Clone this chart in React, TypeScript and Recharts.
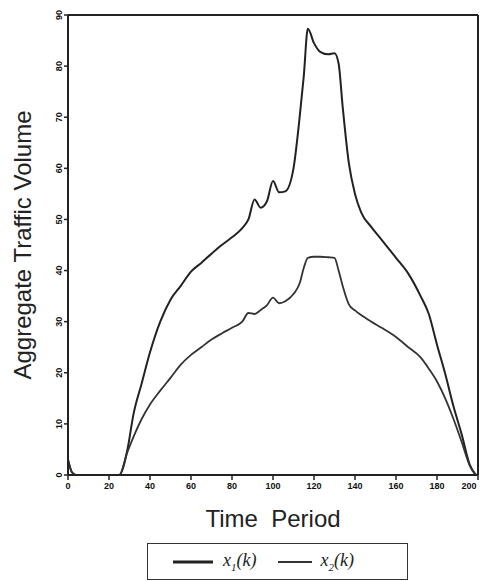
import React from "react";
import { LineChart, Line, XAxis, YAxis, ReferenceLine, Legend, Label } from "recharts";

const periods = [0, 2, 4, 25, 29, 32, 36, 40, 45, 50, 55, 60, 65, 70, 75, 80, 85, 88, 91, 94, 97, 100, 103, 106, 110, 113, 115, 117, 120, 123, 127, 130, 132, 134, 137, 140, 143, 148, 153, 160, 166, 172, 176, 180, 184, 188, 192, 196, 199];
const x1Values = [3, 0.5, 0, 0, 5, 12, 18, 24, 30, 34.3, 37, 39.8, 41.5, 43.3, 45, 46.5, 48.3, 50, 53.9, 52.3, 53.5, 57.5, 55.3, 55.5, 60, 70, 78, 87.3, 84.5, 82.8, 82.3, 82.5, 80.5, 72, 61, 55, 51.4, 48.5, 46, 42.5, 39.4, 35, 31.5, 25.5, 19.8, 13.5, 8, 2, 0];
const x2Values = [3, 0.5, 0, 0, 4.5, 7.5, 11, 13.8, 16.5, 19, 21.6, 23.5, 25, 26.5, 27.7, 28.8, 30, 31.7, 31.5, 32.3, 33.2, 34.7, 33.6, 34, 35.4, 37.5, 40.5, 42.5, 42.7, 42.7, 42.6, 42.5, 40, 37, 33.4, 32.2, 31.3, 30, 28.8, 27, 25, 23, 20.8, 18.3, 15, 11, 6.5, 1.8, 0];
const xTicks = [0, 20, 40, 60, 80, 100, 120, 140, 160, 180, 200];
const yTicks = [0, 10, 20, 30, 40, 50, 60, 70, 80, 90];
const seriesNames = ["x1", "x2"];

const data = periods.map((t, i) => ({ t, x1: x1Values[i], x2: x2Values[i] }));

const YTick = (props: any) => {
  const { x, y, payload } = props;
  const cx = x - 3;
  return (
    <text
      x={cx}
      y={y}
      transform={`rotate(-90 ${cx} ${y})`}
      textAnchor="middle"
      dominantBaseline="central"
      fontSize={9}
      fontWeight="bold"
      fontFamily="Liberation Sans, Arial, sans-serif"
      fill="#111"
    >
      {payload.value}
    </text>
  );
};

const XTick = (props: any) => {
  const { x, y, payload } = props;
  return (
    <text
      x={x}
      y={y + 7}
      textAnchor="middle"
      fontSize={9}
      fontWeight="bold"
      fontFamily="Liberation Sans, Arial, sans-serif"
      fill="#111"
    >
      {payload.value}
    </text>
  );
};

const LegendBox = () => (
  <div
    style={{
      width: 261,
      height: 37,
      border: "1.5px solid #333",
      display: "flex",
      alignItems: "center",
      fontFamily: "Liberation Serif, DejaVu Serif, serif",
      fontStyle: "italic",
      fontSize: 18,
      color: "#222",
      boxSizing: "border-box",
    }}
  >
    <svg width={40} height={6} style={{ marginLeft: 25 }}>
      <line x1={0} y1={3} x2={40} y2={3} stroke="#222" strokeWidth={3} />
    </svg>
    <span style={{ marginLeft: 10 }}>
      x<sub style={{ fontSize: 11 }}>1</sub>(k)
    </span>
    <svg width={34} height={6} style={{ marginLeft: 22 }}>
      <line x1={0} y1={3} x2={34} y2={3} stroke="#333" strokeWidth={2} />
    </svg>
    <span style={{ marginLeft: 8 }}>
      x<sub style={{ fontSize: 11 }}>2</sub>(k)
    </span>
  </div>
);

export default function App() {
  return (
    <div style={{ position: "absolute", left: 0, top: 0, width: 481, height: 581, background: "#fff" }}>
      <LineChart
        width={481}
        height={581}
        data={data}
        margin={{ top: 15, right: 3, left: 1, bottom: 76 }}
      >
        <XAxis
          dataKey="t"
          type="number"
          domain={[0, 200]}
          ticks={xTicks}
          tick={<XTick />}
          tickSize={5}
          height={30}
          axisLine={{ stroke: "#222", strokeWidth: 2 }}
          tickLine={{ stroke: "#222", strokeWidth: 1.5 }}
        >
          <Label
            value={"Time\u00a0 Period"}
            position="insideBottom"
            offset={-22}
            style={{ fontSize: 24, fontFamily: "Liberation Sans, Arial, sans-serif", fill: "#222" }}
          />
        </XAxis>
        <YAxis
          type="number"
          domain={[0, 90]}
          ticks={yTicks}
          tick={<YTick />}
          tickSize={4}
          width={67}
          axisLine={{ stroke: "#222", strokeWidth: 2 }}
          tickLine={{ stroke: "#222", strokeWidth: 1.5 }}
        >
          <Label
            value="Aggregate Traffic Volume"
            angle={-90}
            position="insideLeft"
            offset={21}
            style={{ fontSize: 24, fontFamily: "Liberation Sans, Arial, sans-serif", fill: "#222", textAnchor: "middle" }}
          />
        </YAxis>
        <ReferenceLine y={90} stroke="#222" strokeWidth={2} />
        <ReferenceLine x={200} stroke="#222" strokeWidth={2} />
        <Line
          dataKey={seriesNames[0]}
          type="monotone"
          stroke="#222"
          strokeWidth={2}
          dot={false}
          isAnimationActive={false}
        />
        <Line
          dataKey={seriesNames[1]}
          type="monotone"
          stroke="#333"
          strokeWidth={1.8}
          dot={false}
          isAnimationActive={false}
        />
        <Legend
          layout="vertical"
          align="center"
          verticalAlign="middle"
          content={<LegendBox />}
          wrapperStyle={{ left: 147, top: 543, width: 262, height: 38 }}
        />
      </LineChart>
    </div>
  );
}
